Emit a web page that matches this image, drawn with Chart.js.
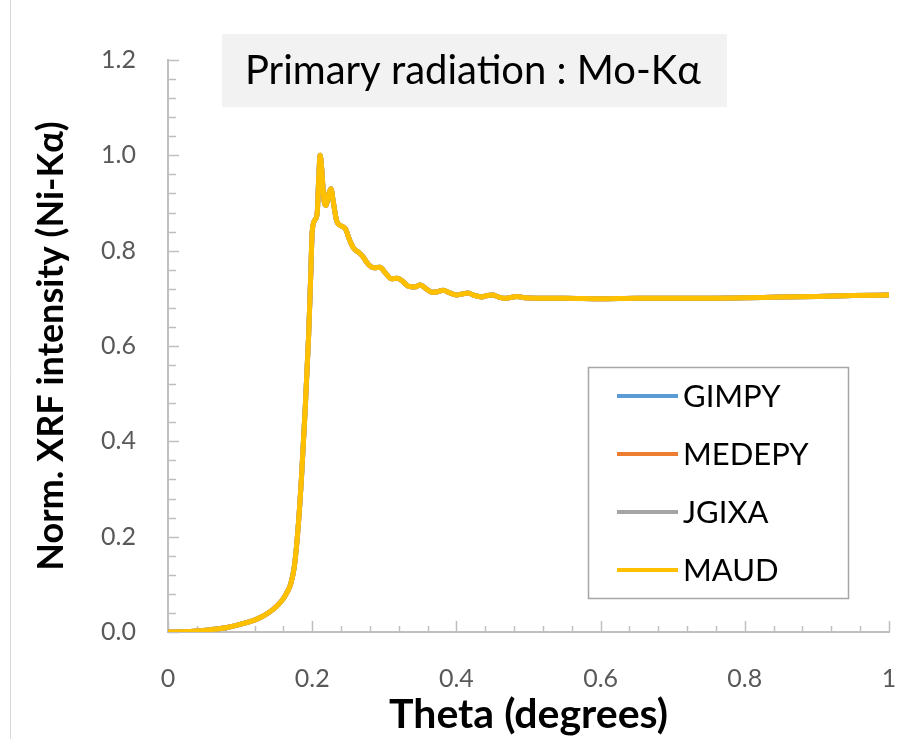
<!DOCTYPE html>
<html>
<head>
<meta charset="utf-8">
<script src="https://cdn.jsdelivr.net/npm/chart.js@4.4.0/dist/chart.umd.min.js"></script>
<style>
  html, body { margin: 0; padding: 0; background: #ffffff; }
  #wrap { width: 906px; height: 739px; position: relative; }
</style>
</head>
<body>
<div id="wrap"><canvas id="xrfChart" width="906" height="739"></canvas></div>
<script>
// incidence angle (degrees)
const thetaDeg = [0, 0.02, 0.04, 0.06, 0.08, 0.10, 0.12, 0.13, 0.14, 0.15, 0.16,
  0.165, 0.17, 0.175, 0.18, 0.185, 0.19, 0.195, 0.198, 0.2, 0.204,
  0.207, 0.209, 0.211, 0.213, 0.216, 0.219, 0.223, 0.226, 0.229, 0.234,
  0.24, 0.246, 0.252, 0.258, 0.264, 0.27, 0.278, 0.286, 0.294, 0.302,
  0.31, 0.318, 0.326, 0.334, 0.342, 0.35, 0.358, 0.366, 0.374, 0.382,
  0.39, 0.4, 0.408, 0.416, 0.425, 0.435, 0.443, 0.45, 0.458, 0.467,
  0.476, 0.484, 0.495, 0.51, 0.55, 0.6, 0.65, 0.7, 0.75, 0.8,
  0.85, 0.9, 0.95, 1.0];

// normalised Ni-Ka intensity (all four codes give the same curve)
const niKaIntensity = [0, 0.0005, 0.002, 0.005, 0.009, 0.016, 0.025, 0.032, 0.041, 0.053, 0.070,
  0.083, 0.100, 0.135, 0.21, 0.32, 0.46, 0.62, 0.75, 0.84, 0.865,
  0.88, 0.95, 1.0, 0.975, 0.91, 0.895, 0.92, 0.93, 0.905, 0.862,
  0.852, 0.846, 0.822, 0.804, 0.797, 0.788, 0.771, 0.764, 0.765, 0.752,
  0.741, 0.742, 0.735, 0.725, 0.724, 0.728, 0.72, 0.713, 0.714, 0.717,
  0.712, 0.707, 0.709, 0.711, 0.706, 0.703, 0.706, 0.707, 0.703, 0.700,
  0.702, 0.704, 0.701, 0.700, 0.700, 0.699, 0.700, 0.700, 0.700, 0.701,
  0.703, 0.704, 0.706, 0.707];

const seriesNames = ["GIMPY", "MEDEPY", "JGIXA", "MAUD"];
const seriesColors = ["#5b9bd5", "#ed7d31", "#a5a5a5", "#ffc000"];

const chartTitle = "Primary radiation : Mo-K\u03B1";
const xTitle = "Theta (degrees)";
const yTitle = "Norm. XRF intensity (Ni-K\u03B1)";

const FONT = "Lato, 'Open Sans', sans-serif";
const AXIS_GRAY = "#bfbfbf";

function buildPoints() {
  return thetaDeg.map((t, i) => ({ x: t, y: niKaIntensity[i] }));
}

// grey box with the radiation label
const titleBoxPlugin = {
  id: "titleBox",
  afterDraw(chart) {
    const ctx = chart.ctx;
    ctx.save();
    ctx.fillStyle = "#f2f2f2";
    ctx.fillRect(222, 34, 505, 73);
    ctx.fillStyle = "#000000";
    ctx.font = "40px " + FONT;
    ctx.textAlign = "center";
    ctx.textBaseline = "middle";
    ctx.fillText(chartTitle, 473, 71);
    ctx.restore();
  }
};

// inside tick marks, Excel style (major every 0.2, minor every 0.04)
const tickMarksPlugin = {
  id: "tickMarks",
  beforeDatasetsDraw(chart) {
    const { ctx, scales: { x, y }, chartArea } = chart;
    ctx.save();
    ctx.strokeStyle = AXIS_GRAY;
    ctx.lineWidth = 1.5;
    ctx.beginPath();
    for (let i = 0; i <= 30; i++) {
      const py = Math.round(y.getPixelForValue(i * 0.04)) + 0.5;
      const len = i % 5 === 0 ? 11 : 8;
      ctx.moveTo(chartArea.left, py);
      ctx.lineTo(chartArea.left + len, py);
    }
    for (let i = 0; i <= 25; i++) {
      const px = Math.round(x.getPixelForValue(i * 0.04)) + 0.5;
      const len = i % 5 === 0 ? 11 : 6;
      ctx.moveTo(px, chartArea.bottom);
      ctx.lineTo(px, chartArea.bottom - len);
    }
    ctx.stroke();
    ctx.restore();
  }
};

// legend drawn inside the plot, framed
const boxLegendPlugin = {
  id: "boxLegend",
  afterDraw(chart) {
    const ctx = chart.ctx;
    ctx.save();
    ctx.strokeStyle = "#a6a6a6";
    ctx.lineWidth = 1.5;
    ctx.strokeRect(588.5, 367.5, 260, 231);
    ctx.font = "31px " + FONT;
    ctx.textAlign = "left";
    ctx.textBaseline = "middle";
    chart.data.datasets.forEach((ds, i) => {
      const cy = 396 + i * 58;
      ctx.strokeStyle = ds.borderColor;
      ctx.lineWidth = 4;
      ctx.beginPath();
      ctx.moveTo(617, cy);
      ctx.lineTo(678, cy);
      ctx.stroke();
      ctx.fillStyle = "#000000";
      ctx.fillText(ds.label, 683, cy + 1);
    });
    // faint frame line on the left edge
    ctx.strokeStyle = "#d9d9d9";
    ctx.lineWidth = 1;
    ctx.beginPath();
    ctx.moveTo(10.5, 0);
    ctx.lineTo(10.5, 739);
    ctx.stroke();
    ctx.restore();
  }
};

const ctx = document.getElementById("xrfChart").getContext("2d");
new Chart(ctx, {
  type: "line",
  data: {
    datasets: seriesNames.map((name, i) => ({
      label: name,
      data: buildPoints(),
      borderColor: seriesColors[i],
      backgroundColor: seriesColors[i],
      borderWidth: 5,
      pointRadius: 0,
      cubicInterpolationMode: "monotone",
      fill: false,
      order: seriesNames.length - i
    }))
  },
  options: {
    responsive: false,
    animation: false,
    devicePixelRatio: 1,
    layout: { padding: { top: 60, right: 17, left: 0, bottom: 0 } },
    plugins: {
      legend: { display: false },
      tooltip: { enabled: false }
    },
    scales: {
      x: {
        type: "linear",
        min: 0,
        max: 1,
        afterFit(scale) {
          scale.height = 107;
          scale.paddingLeft = 0;
          scale.paddingRight = 0;
        },
        grid: { display: false, drawTicks: false },
        border: { display: true, color: AXIS_GRAY, width: 2 },
        ticks: {
          stepSize: 0.2,
          padding: 32,
          color: "#595959",
          font: { family: FONT, size: 25 },
          callback: (v) => (v === 0 || v === 1) ? String(v) : v.toFixed(1)
        },
        title: {
          display: true,
          text: xTitle,
          color: "#000000",
          font: { family: FONT, size: 41, weight: "bold" },
          padding: { top: 0, bottom: 0 }
        }
      },
      y: {
        min: 0,
        max: 1.2,
        afterFit(scale) {
          scale.width = 168;
          scale.paddingTop = 0;
          scale.paddingBottom = 0;
        },
        grid: { display: false, drawTicks: false },
        border: { display: true, color: AXIS_GRAY, width: 2 },
        ticks: {
          stepSize: 0.2,
          padding: 32,
          color: "#595959",
          font: { family: FONT, size: 25 },
          callback: (v) => v.toFixed(1)
        },
        title: {
          display: true,
          text: yTitle,
          color: "#000000",
          font: { family: FONT, size: 36, weight: "bold" },
          padding: { top: 30, bottom: 0 }
        }
      }
    }
  },
  plugins: [tickMarksPlugin, titleBoxPlugin, boxLegendPlugin]
});
</script>
</body>
</html>
